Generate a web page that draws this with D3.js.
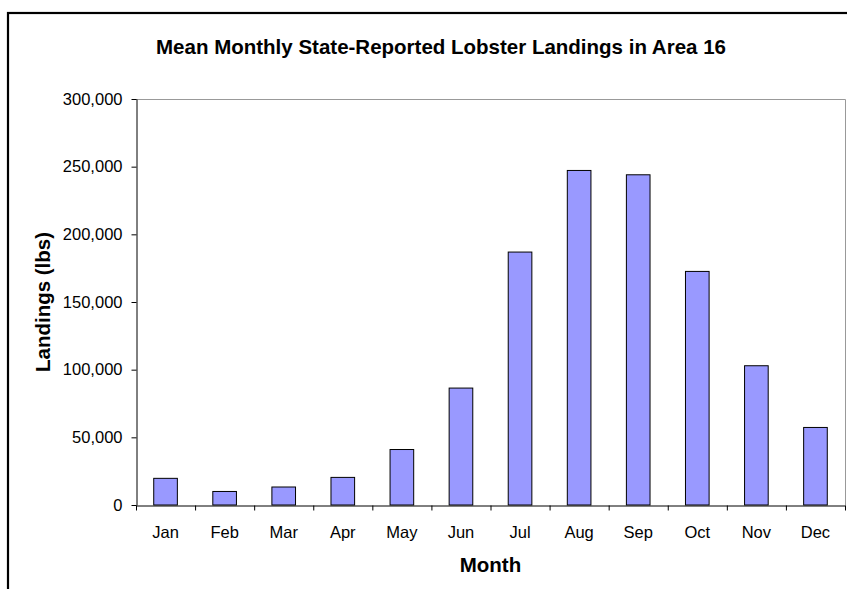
<!DOCTYPE html>
<html>
<head>
<meta charset="utf-8">
<script src="https://cdn.jsdelivr.net/npm/d3@7"></script>
<style>
  body { margin: 0; background: #fff; }
  svg { display: block; font-family: Arial, "Liberation Sans", sans-serif; }
</style>
</head>
<body>
<div id="chart"></div>
<script>
// values
const months = ['Jan', 'Feb', 'Mar', 'Apr', 'May', 'Jun', 'Jul', 'Aug', 'Sep', 'Oct', 'Nov', 'Dec'];
const landings = [19700, 10000, 13300, 20400, 41000, 86400, 186900, 247200, 244000, 172600, 102900, 57300];
const yTicks = [0, 50000, 100000, 150000, 200000, 250000, 300000];

const width = 847, height = 589;
const plot = { left: 136, right: 845, top: 99, bottom: 505 };

const svg = d3.select('#chart').append('svg')
    .attr('width', width)
    .attr('height', height);

// chart frame (cut off on the right and bottom)
svg.append('rect')
    .attr('x', 8)
    .attr('y', 13)
    .attr('width', 900)
    .attr('height', 700)
    .attr('fill', 'none')
    .attr('stroke', '#000')
    .attr('stroke-width', 2.2);

const x = d3.scaleBand()
    .domain(months)
    .range([plot.left, plot.right])
    .paddingInner(0.6)
    .paddingOuter(0.3);

const y = d3.scaleLinear()
    .domain([0, 300000])
    .range([plot.bottom, plot.top]);

// plot area border, top and right sides
svg.append('path')
    .attr('d', `M${plot.left},${plot.top + 0.5}H${plot.right + 0.5}V${plot.bottom}`)
    .attr('fill', 'none')
    .attr('stroke', '#999')
    .attr('stroke-width', 1);

// bars
svg.append('g')
    .selectAll('rect')
    .data(landings)
    .join('rect')
    .attr('x', (d, i) => x(months[i]))
    .attr('y', d => y(d))
    .attr('width', x.bandwidth())
    .attr('height', d => y(0) - y(d))
    .attr('fill', '#9999ff')
    .attr('stroke', '#000')
    .attr('stroke-width', 1);

// y axis
const yAxis = svg.append('g')
    .attr('transform', `translate(${plot.left + 0.5},0)`)
    .call(d3.axisLeft(y)
        .tickValues(yTicks)
        .tickFormat(d3.format(','))
        .tickSize(5)
        .tickSizeOuter(0)
        .tickPadding(9));

// x axis: ticks between categories, labels under each bar
const xEdges = d3.scaleLinear().domain([0, months.length]).range([plot.left, plot.right]);
const xAxis = svg.append('g')
    .attr('transform', `translate(0,${plot.bottom + 0.5})`)
    .call(d3.axisBottom(xEdges)
        .ticks(months.length)
        .tickFormat('')
        .tickSize(5)
        .tickSizeOuter(0));

svg.append('g')
    .selectAll('text')
    .data(months)
    .join('text')
    .attr('x', d => x(d) + x.bandwidth() / 2)
    .attr('y', 538)
    .attr('text-anchor', 'middle')
    .attr('font-size', 16.5)
    .attr('fill', '#000')
    .text(d => d);

[yAxis, xAxis].forEach(g => {
    g.selectAll('.domain, line').attr('stroke', '#000');
    g.selectAll('text')
        .attr('font-size', 16.5)
        .attr('font-family', 'Arial, "Liberation Sans", sans-serif')
        .attr('fill', '#000');
});

// titles
svg.append('text')
    .attr('x', 441)
    .attr('y', 54)
    .attr('text-anchor', 'middle')
    .attr('font-size', 20.5)
    .attr('font-weight', 'bold')
    .text('Mean Monthly State-Reported Lobster Landings in Area 16');

svg.append('text')
    .attr('x', (plot.left + plot.right) / 2)
    .attr('y', 572)
    .attr('text-anchor', 'middle')
    .attr('font-size', 20.5)
    .attr('font-weight', 'bold')
    .text('Month');

svg.append('text')
    .attr('transform', `translate(50,${(plot.top + plot.bottom) / 2}) rotate(-90)`)
    .attr('text-anchor', 'middle')
    .attr('font-size', 20.5)
    .attr('font-weight', 'bold')
    .text('Landings (lbs)');
</script>
</body>
</html>
